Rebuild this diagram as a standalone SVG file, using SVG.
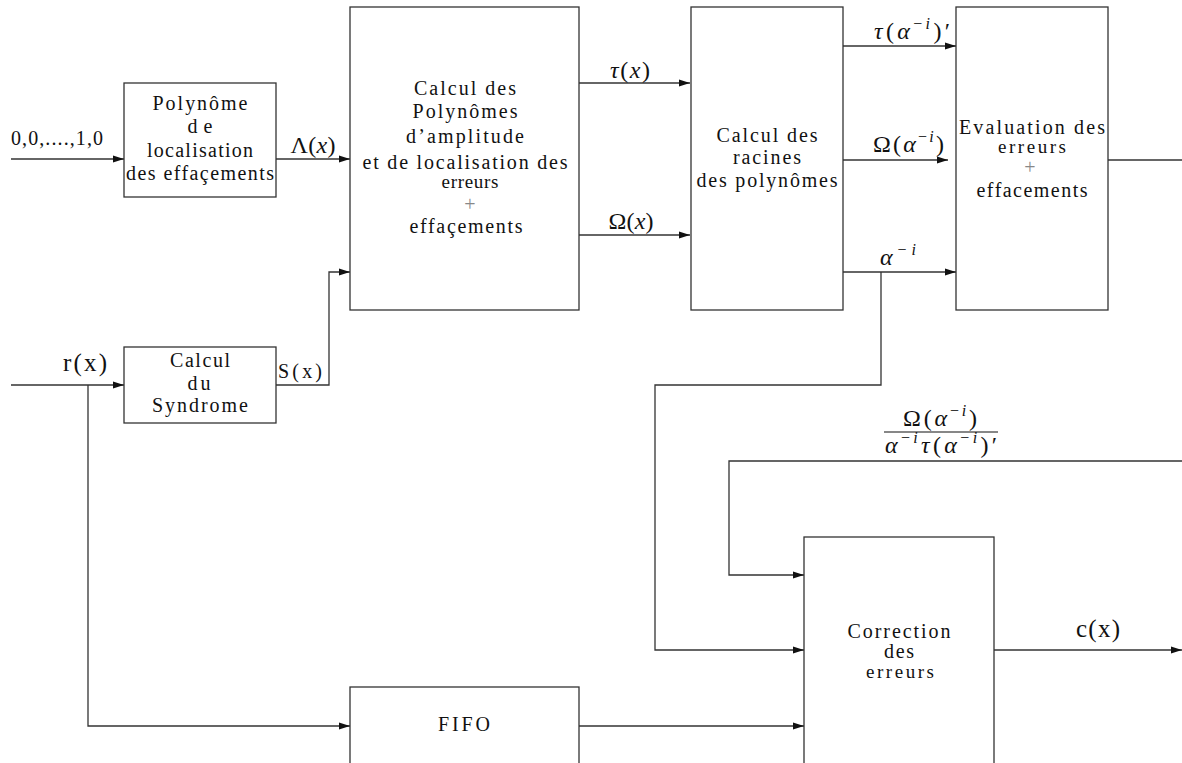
<svg xmlns="http://www.w3.org/2000/svg" width="1182" height="763" viewBox="0 0 1182 763">
  <style>
    .box { fill: #ffffff; stroke: #333333; stroke-width: 1.3; }
    .wire { fill: none; stroke: #333333; stroke-width: 1.3; }
    .lbl { font-family: "Liberation Serif", "DejaVu Serif", serif; font-size: 20px; fill: #111111; text-anchor: middle; }
    .tight { font-size: 19px; }
    .plus { font-family: "Liberation Serif", "DejaVu Serif", serif; font-size: 20px; fill: #888888; text-anchor: middle; }
    .math { font-family: "Liberation Serif", "DejaVu Serif", serif; font-size: 24px; fill: #111111; }
    .big { font-family: "Liberation Serif", "DejaVu Serif", serif; font-size: 25px; fill: #111111; text-anchor: middle; }
    .it { font-style: italic; }
    .sup { font-size: 16px; }
  </style>
  <defs>
    <marker id="arrow" markerWidth="11" markerHeight="8" refX="11" refY="4" orient="auto" markerUnits="userSpaceOnUse">
      <path d="M0,0.5 L11,4 L0,7.5 Z" fill="#111111"/>
    </marker>
  </defs>

  <rect width="1182" height="763" fill="#ffffff"/>

  <!-- connectors -->
  <g id="connectors">
    <path class="wire" d="M11,159 H124" marker-end="url(#arrow)"/>
    <path class="wire" d="M276,159 H350" marker-end="url(#arrow)"/>
    <path class="wire" d="M11,385 H124" marker-end="url(#arrow)"/>
    <path class="wire" d="M276,385 H329 V272 H350" marker-end="url(#arrow)"/>
    <path class="wire" d="M88,385 V726 H350" marker-end="url(#arrow)"/>
    <path class="wire" d="M579,83 H690" marker-end="url(#arrow)"/>
    <path class="wire" d="M579,235 H690" marker-end="url(#arrow)"/>
    <path class="wire" d="M843,46 H956" marker-end="url(#arrow)"/>
    <path class="wire" d="M836,160 H948" marker-end="url(#arrow)"/>
    <path class="wire" d="M843,272 H956" marker-end="url(#arrow)"/>
    <path class="wire" d="M881,272 V385 H655 V650 H804" marker-end="url(#arrow)"/>
    <path class="wire" d="M1108,160 H1182"/>
    <path class="wire" d="M1182,461 H729 V575 H804" marker-end="url(#arrow)"/>
    <path class="wire" d="M579,726 H804" marker-end="url(#arrow)"/>
    <path class="wire" d="M994,650 H1182" marker-end="url(#arrow)"/>
  </g>

  <!-- erasure locator polynomial -->
  <g id="node-localisation">
    <rect class="box" x="124" y="83" width="152" height="114"/>
    <text class="lbl" x="200" y="110" textLength="95" lengthAdjust="spacing">Polynôme</text>
    <text class="lbl" x="200" y="133" textLength="25" lengthAdjust="spacing">de</text>
    <text class="lbl" x="200" y="157" textLength="106" lengthAdjust="spacing">localisation</text>
    <text class="lbl" x="200" y="180" textLength="148" lengthAdjust="spacing">des effaçements</text>
  </g>

  <!-- syndrome computation -->
  <g id="node-syndrome">
    <rect class="box" x="124" y="347" width="152" height="76"/>
    <text class="lbl" x="200" y="367" textLength="60" lengthAdjust="spacing">Calcul</text>
    <text class="lbl" x="199" y="390" textLength="23" lengthAdjust="spacing">du</text>
    <text class="lbl" x="200" y="412" textLength="96" lengthAdjust="spacing">Syndrome</text>
  </g>

  <!-- amplitude / locator polynomials -->
  <g id="node-polynomes">
    <rect class="box" x="350" y="7" width="229" height="303"/>
    <text class="lbl" x="465" y="95" textLength="102" lengthAdjust="spacing">Calcul des</text>
    <text class="lbl" x="465" y="118" textLength="105" lengthAdjust="spacing">Polynômes</text>
    <text class="lbl" x="465" y="143" textLength="118" lengthAdjust="spacing">d’amplitude</text>
    <text class="lbl" x="465" y="169" textLength="205" lengthAdjust="spacing">et de localisation des</text>
    <text class="lbl tight" x="470" y="188" textLength="57" lengthAdjust="spacing">erreurs</text>
    <text class="plus" x="470" y="211">+</text>
    <text class="lbl" x="466" y="233" textLength="113" lengthAdjust="spacing">effaçements</text>
  </g>

  <!-- root search -->
  <g id="node-racines">
    <rect class="box" x="691" y="7" width="152" height="303"/>
    <text class="lbl" x="767" y="142" textLength="101" lengthAdjust="spacing">Calcul des</text>
    <text class="lbl" x="767" y="164" textLength="68" lengthAdjust="spacing">racines</text>
    <text class="lbl" x="767" y="187" textLength="141" lengthAdjust="spacing">des polynômes</text>
  </g>

  <!-- error evaluation -->
  <g id="node-evaluation">
    <rect class="box" x="956" y="7" width="152" height="303"/>
    <text class="lbl" x="1032" y="134" textLength="146" lengthAdjust="spacing">Evaluation des</text>
    <text class="lbl tight" x="1032" y="153" textLength="68" lengthAdjust="spacing">erreurs</text>
    <text class="plus" x="1030" y="174">+</text>
    <text class="lbl" x="1032" y="197" textLength="111" lengthAdjust="spacing">effacements</text>
  </g>

  <!-- delay line -->
  <g id="node-fifo">
    <rect class="box" x="350" y="687" width="229" height="90"/>
    <text class="lbl" x="464" y="731" textLength="52" lengthAdjust="spacing">FIFO</text>
  </g>

  <!-- error correction -->
  <g id="node-correction">
    <rect class="box" x="804" y="537" width="190" height="240"/>
    <text class="lbl" x="899" y="638" textLength="103" lengthAdjust="spacing">Correction</text>
    <text class="lbl" x="899" y="658" textLength="30" lengthAdjust="spacing">des</text>
    <text class="lbl tight" x="900" y="678" textLength="68" lengthAdjust="spacing">erreurs</text>
  </g>

  <!-- signal labels -->
  <g id="labels">
    <text class="lbl" x="57" y="145" font-size="18" textLength="92" lengthAdjust="spacing">0,0,....,1,0</text>
    <text class="math" x="313" y="153" text-anchor="middle" textLength="45" lengthAdjust="spacing">Λ(<tspan class="it">x</tspan>)</text>
    <text class="math" x="630" y="78" text-anchor="middle" textLength="40" lengthAdjust="spacing"><tspan class="it">τ</tspan>(<tspan class="it">x</tspan>)</text>
    <text class="math" x="631" y="229" text-anchor="middle" textLength="45" lengthAdjust="spacing">Ω(<tspan class="it">x</tspan>)</text>
    <text class="math" x="874" y="39" textLength="76" lengthAdjust="spacing"><tspan class="it">τ</tspan>(<tspan class="it">α</tspan><tspan class="sup" dy="-10">−<tspan class="it">i</tspan></tspan><tspan dy="10">)′</tspan></text>
    <text class="math" x="873" y="152" textLength="71" lengthAdjust="spacing">Ω(<tspan class="it">α</tspan><tspan class="sup" dy="-10">−<tspan class="it">i</tspan></tspan><tspan dy="10">)</tspan></text>
    <text class="math" x="880" y="265" textLength="36" lengthAdjust="spacing"><tspan class="it">α</tspan><tspan class="sup" dy="-10">−<tspan class="it">i</tspan></tspan></text>
    <text class="math" x="903" y="426" textLength="74" lengthAdjust="spacing">Ω(<tspan class="it">α</tspan><tspan class="sup" dy="-10">−<tspan class="it">i</tspan></tspan><tspan dy="10">)</tspan></text>
    <line x1="884" y1="432" x2="998" y2="432" stroke="#111111" stroke-width="1.2"/>
    <text class="math" x="885" y="453" textLength="112" lengthAdjust="spacing"><tspan class="it">α</tspan><tspan class="sup" dy="-10">−<tspan class="it">i</tspan></tspan><tspan class="it" dy="10">τ</tspan>(<tspan class="it">α</tspan><tspan class="sup" dy="-10">−<tspan class="it">i</tspan></tspan><tspan dy="10">)′</tspan></text>
    <text class="big" x="85" y="371" textLength="44" lengthAdjust="spacing">r(x)</text>
    <text class="lbl" x="300" y="378" font-size="21" textLength="44" lengthAdjust="spacing">S(x)</text>
    <text class="big" x="1098" y="637" textLength="44" lengthAdjust="spacing">c(x)</text>
  </g>
</svg>
